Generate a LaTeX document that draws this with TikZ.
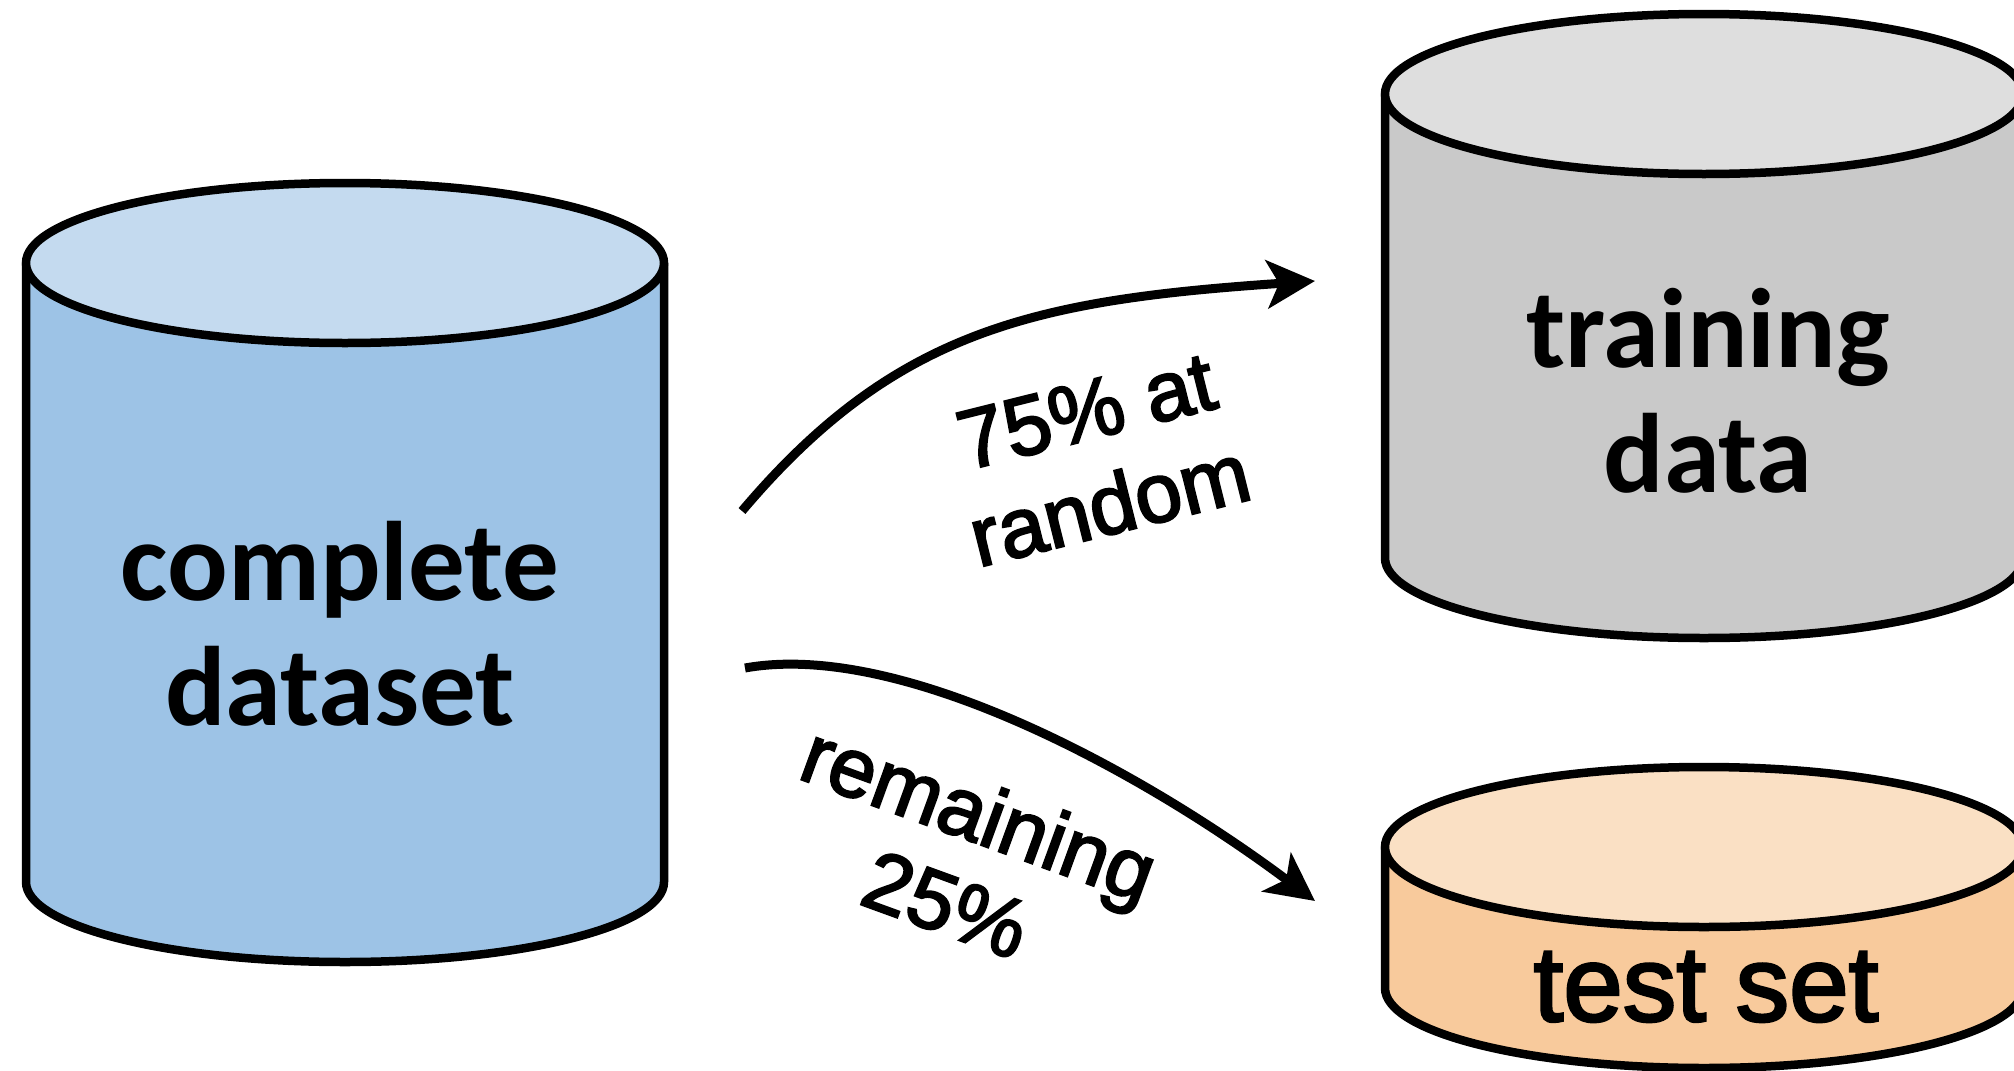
\documentclass[tikz,border=0pt]{standalone}
\usepackage{fontspec}
\usetikzlibrary{arrows.meta}
\newfontfamily\dbfont{Carlito}
\newfontfamily\labelfont[FakeBold=2.5]{Liberation Sans}

\definecolor{fullbody}{HTML}{9DC3E6}
\definecolor{fulltop}{HTML}{C4DAEF}
\definecolor{trainbody}{HTML}{C9C9C9}
\definecolor{traintop}{HTML}{DEDEDE}
\definecolor{testbody}{HTML}{F8CA9C}
\definecolor{testtop}{HTML}{FAE0C4}

\tikzset{
  cylline/.style={line width=8.5pt, draw=black, line join=round},
  flow/.style={line width=9pt, draw=black, -{Stealth[length=48pt,width=48pt,inset=12pt]}},
  dbtext/.style={font=\dbfont\bfseries\fontsize{113}{125}\selectfont, align=center, inner sep=0pt},
  splittext/.style={font=\labelfont\fontsize{84}{97}\selectfont, align=center, inner sep=0pt},
}

% #1 centre x, #2 centre y of top end, #3 centre y of bottom end,
% #4 x radius, #5 y radius, #6 body colour, #7 top colour
\newcommand\dbcylinder[7]{%
  \filldraw[cylline, fill=#6]
    (#1-#4,#2) -- (#1-#4,#3)
    arc[start angle=180, end angle=0, x radius=#4, y radius=#5]
    -- (#1+#4,#2) -- cycle;
  \filldraw[cylline, fill=#7] (#1,#2) ellipse[x radius=#4, y radius=#5];
}

\begin{document}
\begin{tikzpicture}[x=1pt, y=-1pt]
\useasboundingbox (0,0) rectangle (2014,1071);
\clip (0,0) rectangle (2014,1071);

% the three data stores
\dbcylinder{345}{263}{882}{319}{80}{fullbody}{fulltop}
\dbcylinder{1704}{94}{558}{319}{80}{trainbody}{traintop}
\dbcylinder{1704}{847}{988}{319}{80}{testbody}{testtop}

\node[dbtext] (full) at (340,624) {complete\\dataset};
\node[dbtext] (train) at (1708,391) {training\\data};
\node[dbtext, font=\labelfont\fontsize{107}{120}\selectfont, anchor=base] (test) at (1706,1021) {test set};

% split arrows
\coordinate (fullout1) at (742,511);
\coordinate (trainin) at (1315,281);
\coordinate (fullout2) at (745,668);
\coordinate (testin) at (1315,901);

\draw[flow] (fullout1) .. controls (895,330) and (1034,300) .. (trainin);
\draw[flow] (fullout2) .. controls (900,640) and (1140,770) .. (testin);

\node[splittext, rotate=14] (lab75) at (1098,458) {75\% at\\random};
\node[splittext, rotate=-20] (lab25) at (963,858) {remaining\\25\%};
\end{tikzpicture}
\end{document}
